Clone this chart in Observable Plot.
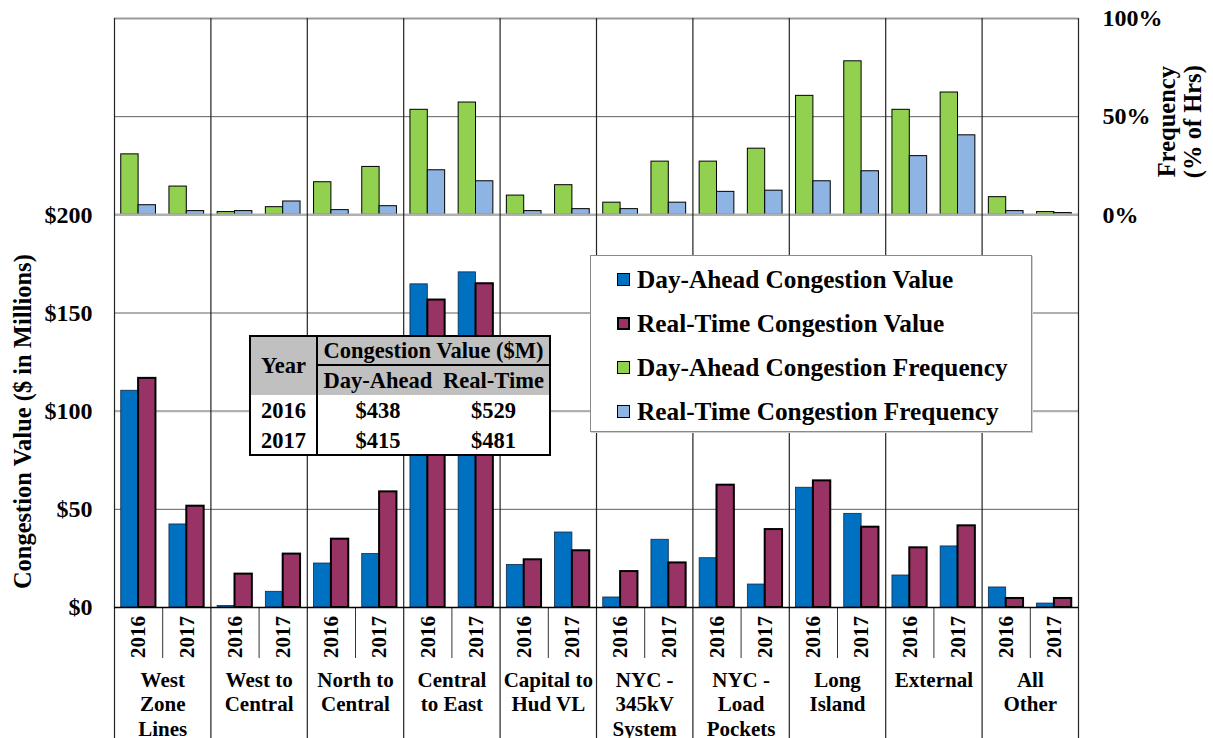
<!DOCTYPE html>
<html>
<head>
<meta charset="utf-8">
<script src="https://cdn.jsdelivr.net/npm/d3@7"></script>
<script src="https://cdn.jsdelivr.net/npm/@observablehq/plot@0.6"></script>
<style>
  body { margin: 0; background: #fff; }
  #wrap { position: relative; width: 1213px; height: 738px; overflow: hidden; font-family: "Liberation Serif", "Times New Roman", serif; font-weight: bold; color: #000; }
  #wrap svg { position: absolute; left: 0; top: 0; }
  .legend { position: absolute; left: 590px; top: 255px; width: 442px; height: 177px; box-sizing: border-box; background: #fff; border: 1.5px solid #8a8a8a; box-shadow: 1px 1px 0 #cfcfcf; }
  .legend .row { position: absolute; left: 0; height: 40px; display: flex; align-items: center; font-size: 25.3px; white-space: nowrap; }
  .legend .sw { width: 13px; height: 13px; box-sizing: border-box; margin-left: 26px; margin-right: 7px; }
  .tbl { position: absolute; left: 249px; top: 335px; width: 302px; height: 121px; box-sizing: border-box; border: 2px solid #000; background: #fff; display: grid; grid-template-columns: 67px 120px 111px; grid-template-rows: 29px 29px 29.5px 29.5px; font-size: 22.5px; }
  .tbl div { display: flex; align-items: center; justify-content: center; box-sizing: border-box; white-space: nowrap; }
  .tbl .hd { background: #c0c0c0; }
  .tbl .yc { border-right: 2px solid #000; }
</style>
</head>
<body>
<div id="wrap"></div>
<script>
// ---------------- data ----------------
const categories = ["West Zone Lines", "West to Central", "North to Central", "Central to East", "Capital to Hud VL",
  "NYC - 345kV System", "NYC - Load Pockets", "Long Island", "External", "All Other"];
const categoryLabels = [["West", "Zone", "Lines"], ["West to", "Central"], ["North to", "Central"], ["Central", "to East"],
  ["Capital to", "Hud VL"], ["NYC -", "345kV", "System"], ["NYC -", "Load", "Pockets"], ["Long", "Island"], ["External"], ["All", "Other"]];
const years = ["2016", "2017"];

// Congestion value ($ millions)
const daValue2016 = [110.4, 0.8, 22.4, 164.6, 21.7, 5.1, 25.1, 61.0, 16.3, 10.2];
const daValue2017 = [42.3, 8.0, 27.2, 170.7, 38.2, 34.5, 11.7, 47.7, 31.1, 2.0];
const rtValue2016 = [116.7, 17.0, 34.8, 156.6, 24.3, 18.3, 62.3, 64.5, 30.4, 4.6];
const rtValue2017 = [51.6, 27.2, 58.9, 164.9, 28.9, 22.7, 39.7, 40.9, 41.6, 4.6];

// Congestion frequency (% of hours)
const daFreq2016 = [30.8, 1.4, 16.6, 53.5, 9.8, 6.2, 27.1, 60.6, 53.5, 9.0];
const daFreq2017 = [14.4, 3.9, 24.4, 57.2, 15.1, 27.1, 33.7, 78.2, 62.3, 1.4];
const rtFreq2016 = [4.9, 1.9, 2.4, 22.7, 1.9, 2.9, 11.7, 17.1, 29.9, 1.9];
const rtFreq2017 = [1.9, 6.8, 4.4, 17.1, 2.9, 6.2, 12.3, 22.2, 40.5, 0.9];

const valueTicks = [0, 50, 100, 150, 200];
const freqTicks = [0, 50, 100];

const legendSeries = ["Day-Ahead Congestion Value", "Real-Time Congestion Value", "Day-Ahead Congestion Frequency", "Real-Time Congestion Frequency"];
const legendColors = ["#0070C0", "#993366", "#92D050", "#8DB4E2"];
const legendStrokes = [1, 2, 1, 1];

const tableYears = ["2016", "2017"];
const tableDayAhead = ["$438", "$415"];
const tableRealTime = ["$529", "$481"];

// ---------------- layout ----------------
const W = 1213, H = 738, mL = 114, mR = 135, mT = 18, mB = 131;
const freqBase = 200;   // frequency panel sits on top of the $200 line
const freqSpan = 100;   // 100% occupies the same height as $100
const pad = 0.14;       // fraction of a year slot left empty on each side
const font = "'Liberation Serif', 'Times New Roman', serif";

const slots = [];
categories.forEach((c, i) => years.forEach((y, j) => slots.push({cat: c, ci: i, year: y, j, slot: 2 * i + j})));

const valueRows = slots.flatMap(s => [
  {series: 0, x1: s.slot + pad, x2: s.slot + 0.5, v: (s.j ? daValue2017 : daValue2016)[s.ci]},
  {series: 1, x1: s.slot + 0.5, x2: s.slot + 1 - pad, v: (s.j ? rtValue2017 : rtValue2016)[s.ci]}
]);
const freqRows = slots.flatMap(s => [
  {series: 2, x1: s.slot + pad, x2: s.slot + 0.5, f: (s.j ? daFreq2017 : daFreq2016)[s.ci]},
  {series: 3, x1: s.slot + 0.5, x2: s.slot + 1 - pad, f: (s.j ? rtFreq2017 : rtFreq2016)[s.ci]}
]);
const nSlots = slots.length;
const catEdges = d3.range(0, nSlots + 1, 2);
const yearEdges = d3.range(1, nSlots, 2);

const txt = {fontFamily: font, fontWeight: "bold", fill: "#000"};

const chart = Plot.plot({
  width: W, height: H,
  marginLeft: mL, marginRight: mR, marginTop: mT, marginBottom: mB,
  x: {type: "linear", domain: [0, nSlots], axis: null},
  y: {type: "linear", domain: [0, freqBase + freqSpan], axis: null},
  style: {background: "#fff", overflow: "visible", fontFamily: font},
  marks: [
    // gridlines
    Plot.ruleY([50, 150, freqBase + 50], {stroke: "#606060", strokeWidth: 1}),
    Plot.ruleY([100], {stroke: "#b0b0b0", strokeWidth: 2.2}),
    Plot.ruleY([freqBase + freqSpan], {stroke: "#999", strokeWidth: 2}),
    // frequency bars
    Plot.rect(freqRows, {x1: "x1", x2: "x2", y1: () => freqBase, y2: d => freqBase + d.f / 100 * freqSpan,
      fill: d => legendColors[d.series], stroke: "#000", strokeWidth: 1}),
    // value bars
    Plot.rect(valueRows.filter(d => d.series === 0), {x1: "x1", x2: "x2", y1: () => 0, y2: "v",
      fill: legendColors[0], stroke: "#0a2a4a", strokeWidth: 0.8}),
    Plot.rect(valueRows.filter(d => d.series === 1), {x1: "x1", x2: "x2", y1: () => 0, y2: "v",
      fill: legendColors[1], stroke: "#000", strokeWidth: 2}),
    Plot.ruleY([freqBase], {stroke: "#b0b0b0", strokeWidth: 2.5}),
    // separators
    Plot.ruleX(catEdges, {stroke: "#222", strokeWidth: 1.2, insetBottom: -mB}),
    Plot.ruleX(yearEdges, {y1: () => 0, y2: () => 0, insetBottom: -51, stroke: "#333", strokeWidth: 1}),
    Plot.ruleY([0], {stroke: "#000", strokeWidth: 1.6}),
    // left axis
    Plot.text(valueTicks, {x: () => 0, y: d => d, text: d => "$" + d, textAnchor: "end", dx: -22, fontSize: 24, ...txt}),
    // right axis
    Plot.text(freqTicks, {x: () => nSlots, y: d => freqBase + d / 100 * freqSpan, text: d => d + "%", textAnchor: "start", dx: 24, fontSize: 24, ...txt}),
    // axis titles
    Plot.text(["Congestion Value ($ in Millions)"], {x: () => 0, y: () => 100, dx: -91.7, dy: 10.5, rotate: -90,
      textAnchor: "middle", lineAnchor: "middle", fontSize: 24.5, ...txt}),
    Plot.text(["Frequency\n(% of Hrs)"], {x: () => nSlots, y: () => freqBase + freqSpan / 2, dx: 101.5, dy: 5, rotate: -90,
      textAnchor: "middle", lineAnchor: "middle", lineHeight: 25 / 24, fontSize: 24.5, ...txt}),
    // year labels
    Plot.text(slots, {x: d => d.slot + 0.5, y: () => 0, text: "year", rotate: -90, textAnchor: "middle", lineAnchor: "middle",
      dy: 29.5, fontSize: 21, ...txt}),
    // category labels
    Plot.text(categories, {x: (d, i) => 2 * i + 1, y: () => 0, text: (d, i) => categoryLabels[i].join("\n"),
      lineAnchor: "top", lineHeight: 24.5 / 21, dy: 62, fontSize: 21, textAnchor: "middle", ...txt})
  ]
});

const wrap = document.getElementById("wrap");
wrap.appendChild(chart);

// legend
const legend = document.createElement("div");
legend.className = "legend";
legendSeries.forEach((name, i) => {
  const row = document.createElement("div");
  row.className = "row";
  row.style.top = (3 + i * 44.3) + "px";
  const sw = document.createElement("div");
  sw.className = "sw";
  sw.style.background = legendColors[i];
  sw.style.border = legendStrokes[i] + "px solid #000";
  const label = document.createElement("span");
  label.textContent = name;
  row.appendChild(sw);
  row.appendChild(label);
  legend.appendChild(row);
});
wrap.appendChild(legend);

// summary table
const tbl = document.createElement("div");
tbl.className = "tbl";
function cell(text, cls, style) {
  const d = document.createElement("div");
  d.className = cls || "";
  d.textContent = text;
  if (style) Object.assign(d.style, style);
  tbl.appendChild(d);
  return d;
}
cell("Year", "hd yc", {gridRow: "1 / span 2", gridColumn: "1"});
cell("Congestion Value ($M)", "hd", {gridRow: "1", gridColumn: "2 / span 2", borderBottom: "2px solid #000"});
cell("Day-Ahead", "hd", {gridRow: "2", gridColumn: "2"});
cell("Real-Time", "hd", {gridRow: "2", gridColumn: "3"});
tableYears.forEach((y, i) => {
  cell(y, "yc", {gridRow: String(3 + i), gridColumn: "1", paddingTop: "3px"});
  cell(tableDayAhead[i], "", {gridRow: String(3 + i), gridColumn: "2", paddingTop: "3px"});
  cell(tableRealTime[i], "", {gridRow: String(3 + i), gridColumn: "3", paddingTop: "3px"});
});
wrap.appendChild(tbl);
</script>
</body>
</html>
